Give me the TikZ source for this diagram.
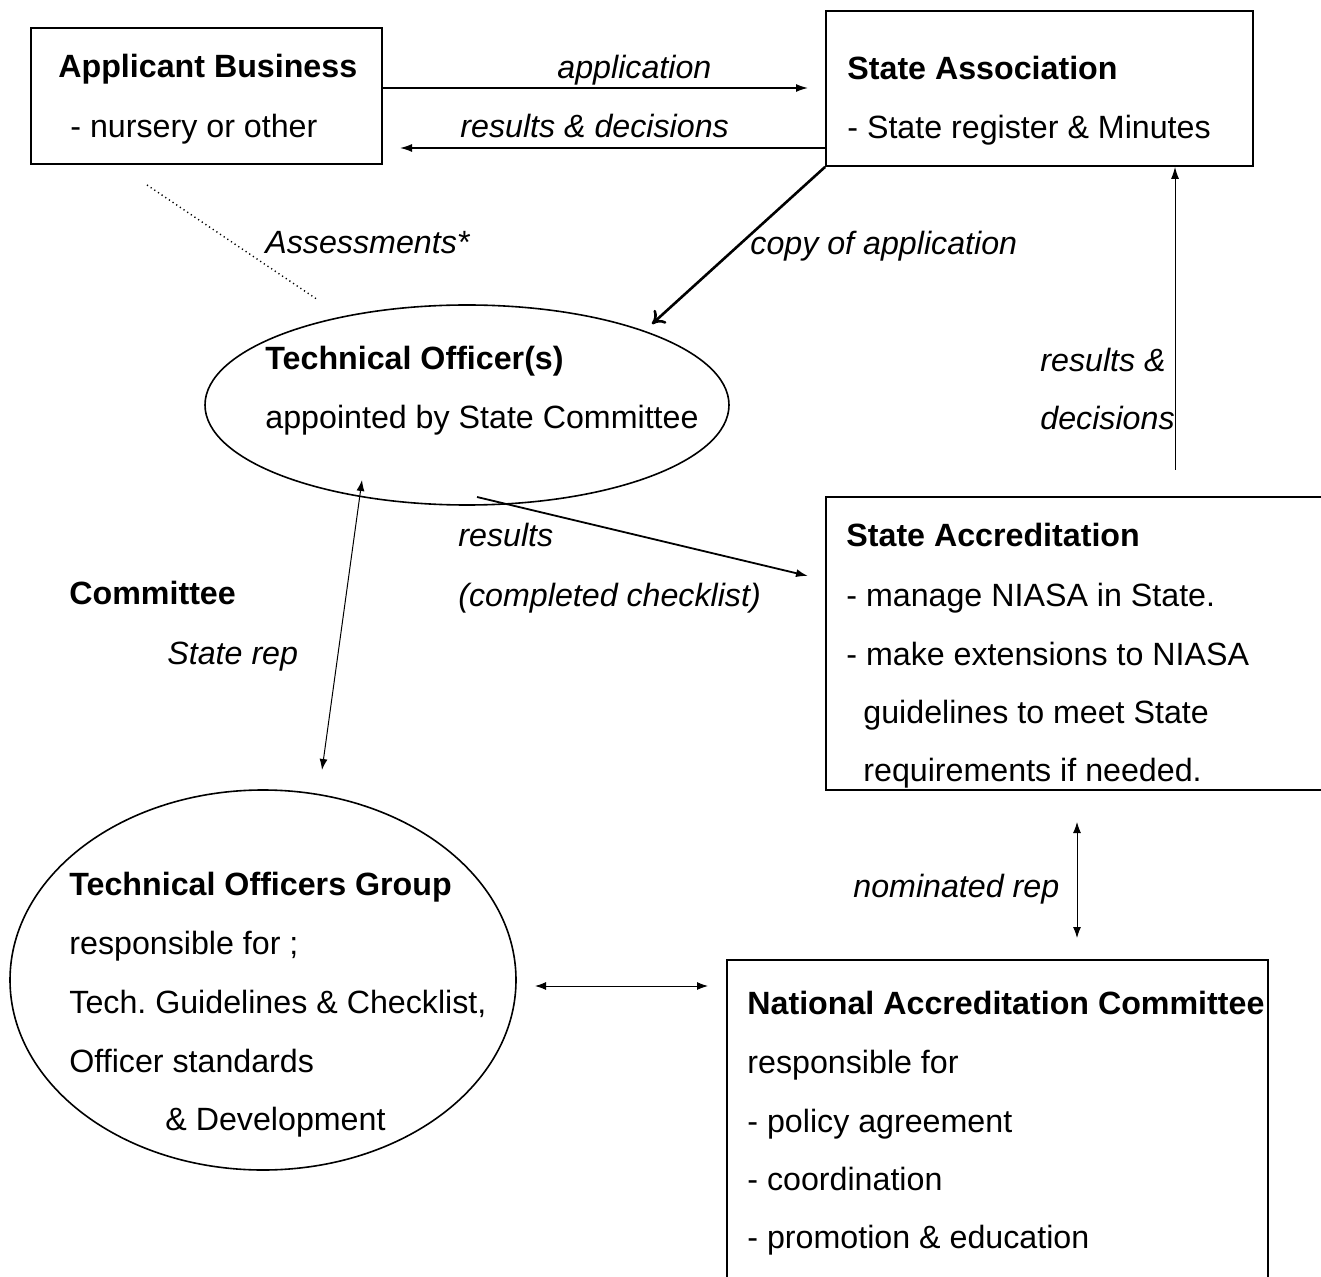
\documentclass[tikz,border=0pt]{standalone}
\usepackage{fontspec}
\setmainfont{Liberation Sans}
\usetikzlibrary{arrows.meta,shapes.geometric}
\frenchspacing
\begin{document}
\begin{tikzpicture}[x=0.5pt,y=-0.5pt,
  tnorm/.style={anchor=base west, inner sep=0pt, font=\fontsize{16.1}{19}\selectfont},
  tbold/.style={tnorm, font=\fontsize{16.1}{19}\selectfont\bfseries},
  tital/.style={tnorm, font=\fontsize{16.1}{19}\selectfont\itshape},
  boxshape/.style={draw, line width=0.9pt, rectangle, inner sep=0pt},
  ell/.style={draw, ellipse, line width=0.8pt, inner sep=0pt},
  arr/.style={-{Latex[length=6pt,width=4pt]}, line width=0.7pt},
  darr/.style={{Latex[length=5.5pt,width=4pt]}-{Latex[length=5.5pt,width=4pt]}, line width=0.5pt},
]
\useasboundingbox (0,0) rectangle (1321,1277);

% boxes and ellipses
\node[boxshape, minimum width=175.5pt, minimum height=68pt] (app) at (206.5,96) {};
\node[boxshape, minimum width=213.5pt, minimum height=77.5pt] (sa) at (1039.5,88.5) {};
\node[boxshape, minimum width=250pt, minimum height=146.5pt] (sacc) at (1076,643.5) {};
\node[boxshape, minimum width=270.5pt, minimum height=165pt] (nac) at (997.5,1125) {};
\node[ell, minimum width=262pt, minimum height=100pt] (to) at (467,405) {};
\node[ell, minimum width=253pt, minimum height=190pt] (tog) at (263,980) {};

% texts
\node[tbold] (t1) at (58,78) {Applicant Business};
\node[tnorm] (t2) at (70,138) {- nursery or other};
\node[tital] (t3) at (557,79) {application};
\node[tital] (t4) at (460,138) {results \& decisions};
\node[tbold] (t5) at (847,80) {State Association};
\node[tnorm] (t6) at (847,139) {- State register \& Minutes};
\node[tital] (t7) at (265,254) {Assessments*};
\node[tital] (t8) at (750,255) {copy of application};
\node[tbold] (t9) at (265,370) {Technical Officer(s)};
\node[tnorm] (t10) at (265,429) {appointed by State Committee};
\node[tital] (t11) at (1040,372) {results \&};
\node[tital] (t12) at (1040,430) {decisions};
\node[tital] (t13) at (458,547) {results};
\node[tital] (t14) at (458,606) {(completed checklist)};
\node[tbold] (t15) at (846,547) {State Accreditation};
\node[tnorm] (t16) at (846,606) {- manage NIASA in State.};
\node[tnorm] (t17) at (846,665) {- make extensions to NIASA};
\node[tnorm] (t18) at (863,723) {guidelines to meet State};
\node[tnorm] (t19) at (863,781) {requirements if needed.};
\node[tbold] (t20) at (69,604) {Committee};
\node[tital] (t21) at (167,664) {State rep};
\node[tbold] (t22) at (69,895) {Technical Officers Group};
\node[tnorm] (t23) at (69,954) {responsible for ;};
\node[tnorm] (t24) at (69,1013) {Tech. Guidelines \& Checklist,};
\node[tnorm] (t25) at (69,1072) {Officer standards};
\node[tnorm] (t26) at (165,1130) {\& Development};
\node[tital] (t27) at (853,897) {nominated rep};
\node[tbold] (t28) at (747,1014) {National Accreditation Committee};
\node[tnorm] (t29) at (747,1073) {responsible for};
\node[tnorm] (t30) at (747,1132) {- policy agreement};
\node[tnorm] (t31) at (747,1190) {- coordination};
\node[tnorm] (t32) at (747,1248) {- promotion \& education};

% connectors
\coordinate (appTip) at (808,88);
\draw[arr] (app.east |- appTip) -- (appTip);
\coordinate (resTip) at (400,148);
\draw[arr] (sa.west |- resTip) -- (resTip);
\coordinate (copyTip) at (652,324);
\draw[line width=1.3pt, -{To[length=6pt,width=9pt]}] (sa.south west) -- (copyTip);
\coordinate (dotA) at (147,185);
\coordinate (dotB) at (318,300);
\draw[line width=0.7pt, dash pattern=on 0.6pt off 1.6pt] (dotA) -- (dotB);
\coordinate (r1) at (477,497);
\coordinate (r2) at (808,576);
\draw[arr, line width=0.9pt] (r1) -- (r2);
\coordinate (u1) at (1175,470);
\draw[arr, line width=0.5pt] (u1) -- (u1 |- sa.south);
\coordinate (s1) at (362,480);
\coordinate (s2) at (322,770);
\draw[darr] (s1) -- (s2);
\coordinate (h1) at (535,986);
\coordinate (h2) at (708,986);
\draw[darr] (h1) -- (h2);
\coordinate (n1) at (1077,822);
\coordinate (n2) at (1077,938);
\draw[darr] (n1) -- (n2);
\end{tikzpicture}
\end{document}
